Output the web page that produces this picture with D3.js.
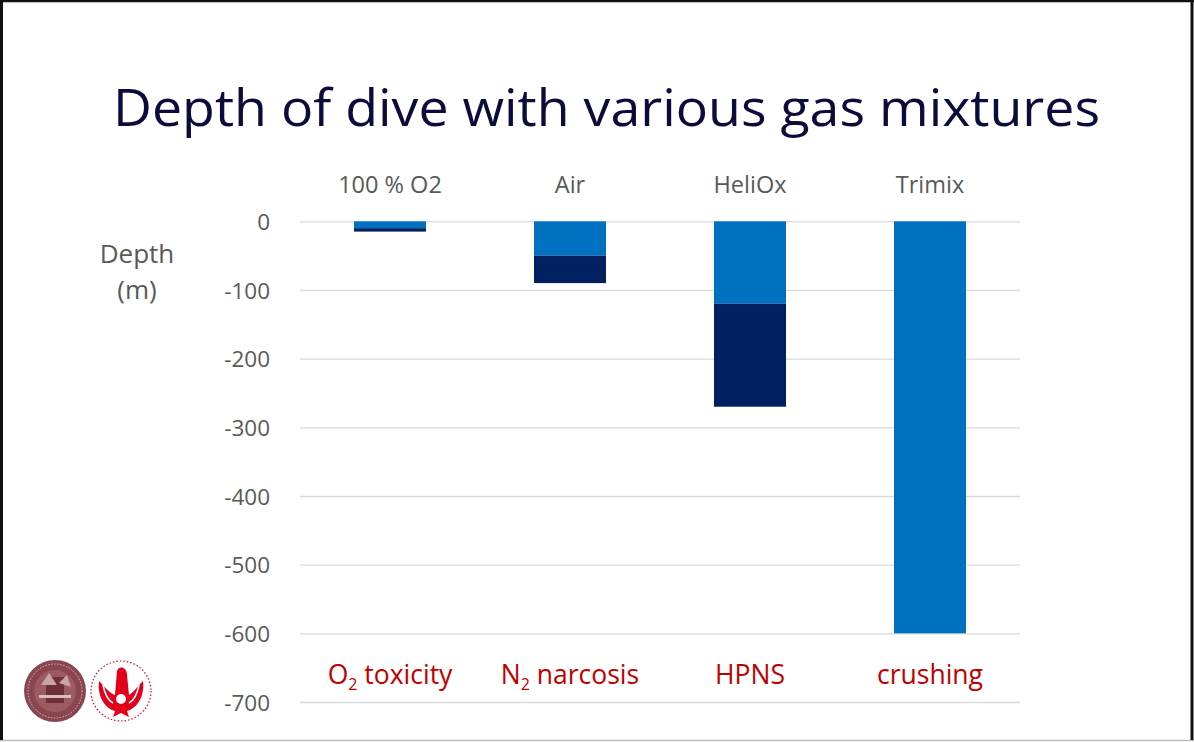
<!DOCTYPE html>
<html>
<head>
<meta charset="utf-8">
<script src="https://cdn.jsdelivr.net/npm/d3@7"></script>
<style>
  html, body { margin: 0; padding: 0; background: #fff; }
  svg { display: block; }
  text { font-family: "Open Sans", "Noto Sans", sans-serif; }
</style>
</head>
<body>
<svg id="chart" width="1194" height="742"></svg>
<script>
// Gas mixtures and the depth ranges (m) of the two stacked segments
const categories = ["100 % O2", "Air", "HeliOx", "Trimix"];
const safeDepth = [10, 50, 120, 600];      // upper (light) segment
const extendedDepth = [5, 40, 150, 0];    // lower (dark) segment
const limits = [
  { main: "O", sub: "2", rest: " toxicity" },
  { main: "N", sub: "2", rest: " narcosis" },
  { main: "HPNS", sub: "", rest: "" },
  { main: "crushing", sub: "", rest: "" }
];
const yTicks = [0, -100, -200, -300, -400, -500, -600, -700];

const svg = d3.select("#chart");
const W = 1194, H = 742;

// slide frame
svg.append("rect").attr("x", 0).attr("y", 0).attr("width", W).attr("height", H).attr("fill", "#fff");
svg.append("line").attr("x1", 0).attr("x2", W).attr("y1", 740.5).attr("y2", 740.5)
  .attr("stroke", "#bdbdbd").attr("stroke-width", 1.5);
svg.append("line").attr("x1", 0).attr("x2", W).attr("y1", 1).attr("y2", 1)
  .attr("stroke", "#111").attr("stroke-width", 2.5);
svg.append("line").attr("x1", 1.5).attr("x2", 1.5).attr("y1", 0).attr("y2", 740)
  .attr("stroke", "#111").attr("stroke-width", 3);
svg.append("line").attr("x1", 1192).attr("x2", 1192).attr("y1", 0).attr("y2", 740)
  .attr("stroke", "#111").attr("stroke-width", 3);

// title, fitted to its line width
svg.append("text")
  .attr("x", 113).attr("y", 126)
  .attr("fill", "#0c0c3c")
  .attr("font-size", 52)
  .attr("textLength", 987).attr("lengthAdjust", "spacingAndGlyphs")
  .text("Depth of dive with various gas mixtures");

// scales
const x = d3.scaleBand().domain(categories).range([300, 1020]).paddingInner(0.6).paddingOuter(0.3);
const y = d3.scaleLinear().domain([0, -700]).range([221.3, 702]);

// gridlines + tick labels via axis
const axis = d3.axisLeft(y).tickValues(yTicks).tickSize(-720).tickPadding(30).tickFormat(d3.format("d"));
const gAxis = svg.append("g").attr("transform", "translate(300,0)").call(axis);
gAxis.select(".domain").remove();
gAxis.selectAll(".tick line").attr("stroke", "#d9d9d9").attr("stroke-width", 1.3);
gAxis.selectAll(".tick text")
  .attr("fill", "#595959")
  .attr("font-size", 22.5)
  .attr("font-family", "\"Open Sans\", sans-serif")
  .attr("dy", "0.36em")
  .text(d => d === 0 ? "0" : "-" + Math.abs(d));

// axis title
svg.append("text").attr("x", 137).attr("y", 263).attr("text-anchor", "middle")
  .attr("fill", "#595959").attr("font-size", 26).text("Depth");
svg.append("text").attr("x", 137).attr("y", 299).attr("text-anchor", "middle")
  .attr("fill", "#595959").attr("font-size", 26).text("(m)");

// stacked bars
const rows = categories.map((c, i) => ({ cat: c, safe: safeDepth[i], ext: extendedDepth[i] }));
const stack = d3.stack().keys(["safe", "ext"])(rows);
const colors = { safe: "#0070c0", ext: "#002060" };
stack.forEach(layer => {
  svg.append("g").selectAll("rect").data(layer).join("rect")
    .attr("x", d => x(d.data.cat))
    .attr("width", x.bandwidth())
    .attr("y", d => y(-d[0]))
    .attr("height", d => y(-d[1]) - y(-d[0]))
    .attr("fill", colors[layer.key]);
});

// category labels above the plot
svg.append("g").selectAll("text").data(categories).join("text")
  .attr("x", d => x(d) + x.bandwidth() / 2)
  .attr("y", 193)
  .attr("text-anchor", "middle")
  .attr("fill", "#595959")
  .attr("font-size", 23.5)
  .text(d => d);

// limiting factor labels
const lab = svg.append("g").selectAll("text").data(limits).join("text")
  .attr("x", (d, i) => x(categories[i]) + x.bandwidth() / 2)
  .attr("y", 684)
  .attr("text-anchor", "middle")
  .attr("fill", "#c00000")
  .attr("font-size", 26.5);
lab.append("tspan").text(d => d.main);
lab.filter(d => d.sub).append("tspan").attr("font-size", 16).attr("dy", 6).text(d => d.sub);
lab.filter(d => d.rest).append("tspan").attr("dy", -6).text(d => d.rest);

// university emblems
const seal = svg.append("g").attr("transform", "translate(55,691)");
seal.append("circle").attr("r", 31).attr("fill", "#8a4650");
seal.append("circle").attr("r", 27).attr("fill", "none").attr("stroke", "#d9b9bc").attr("stroke-width", 1).attr("stroke-dasharray", "1.5 1.5");
seal.append("circle").attr("r", 21).attr("fill", "#9c5a63");
seal.append("rect").attr("x", -9).attr("y", -14).attr("width", 18).attr("height", 26).attr("fill", "#6d2f38");
seal.append("rect").attr("x", -16).attr("y", 4).attr("width", 32).attr("height", 3).attr("fill", "#d8bcbf");
seal.append("path").attr("d", "M-14,-6 L-6,-18 L2,-6 Z M4,-8 L12,-16 L16,-4 Z").attr("fill", "#c9a3a7");

const pel = svg.append("g").attr("transform", "translate(121,691)");
pel.append("circle").attr("r", 30).attr("fill", "#fff").attr("stroke", "#e3001b")
  .attr("stroke-width", 1.2).attr("stroke-dasharray", "1.5 2");
pel.append("path")
  .attr("d", "M-22,-10 C-24,8 -14,18 -6,20 L-8,26 L0,22 L8,26 L6,20 C14,18 24,8 22,-10 C16,-4 12,2 8,4 L6,-16 C6,-24 -2,-26 -4,-20 L-6,4 C-12,2 -16,-4 -22,-10 Z")
  .attr("fill", "#e3001b");
pel.append("path").attr("d", "M-18,-6 C-16,4 -12,10 -8,12 M18,-6 C16,4 12,10 8,12")
  .attr("stroke", "#fff").attr("stroke-width", 1.5).attr("fill", "none");
pel.append("circle").attr("cx", 0).attr("cy", 8).attr("r", 5).attr("fill", "#fff");
</script>
</body>
</html>
